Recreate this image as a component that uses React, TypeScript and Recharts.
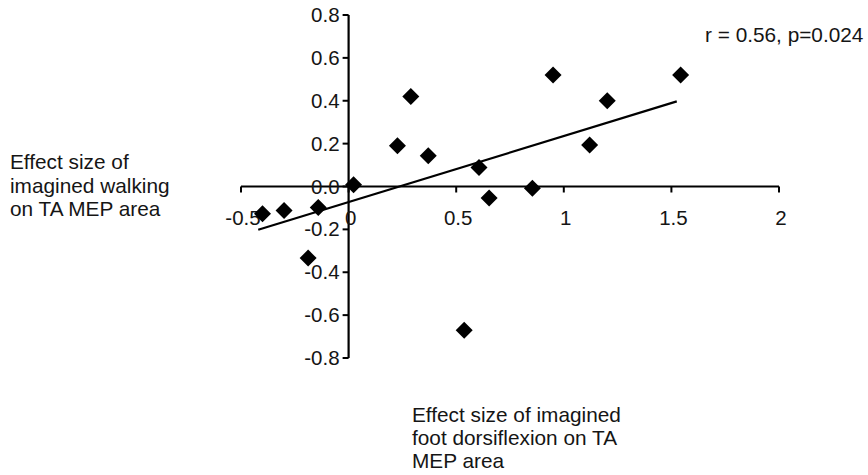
import { ReferenceDot, ReferenceLine, Scatter, ScatterChart, XAxis, YAxis } from "recharts";

// effect sizes
const dorsiflexionEffect = [
  -0.4, -0.3, -0.141, -0.188, 0.023, 0.227, 0.289, 0.37, 0.537, 0.606, 0.653, 0.854, 0.95, 1.12, 1.202, 1.543,
];
const walkingEffect = [
  -0.127, -0.112, -0.098, -0.334, 0.008, 0.19, 0.42, 0.143, -0.671, 0.089, -0.054, -0.008, 0.52, 0.194, 0.4, 0.52,
];
const fitX = [-0.42, 1.525];
const fitY = [-0.202, 0.397];

const xTicks = [-0.5, 0, 0.5, 1, 1.5, 2];
const xTickLabels = ["-0.5", "0", "0.5", "1", "1.5", "2"];
const yTicks = [0.8, 0.6, 0.4, 0.2, 0, -0.2, -0.4, -0.6, -0.8];
const yTickLabels = ["0.8", "0.6", "0.4", "0.2", "0.0", "-0.2", "-0.4", "-0.6", "-0.8"];

const points = dorsiflexionEffect.map((x, i) => ({ x, y: walkingEffect[i] }));
const fitLine = fitX.map((x, i) => ({ x, y: fitY[i] }));

const FONT = "'Liberation Sans', Arial, sans-serif";
const INK = "#151515";

function Diamond(props: any) {
  const { cx, cy } = props;
  const r = 8.5;
  return <polygon points={`${cx},${cy - r} ${cx + r},${cy} ${cx},${cy + r} ${cx - r},${cy}`} fill="#000" />;
}

function xTickShape(label: string) {
  return (props: any) => (
    <g>
      <line x1={props.cx} y1={props.cy} x2={props.cx} y2={props.cy + 6} stroke="#000" strokeWidth={2} />
      <text x={props.cx + 2} y={props.cy + 38.5} textAnchor="middle" fontFamily={FONT} fontSize={20.5} fill={INK}>
        {label}
      </text>
    </g>
  );
}

function yTickShape(label: string) {
  return (props: any) => (
    <g>
      <line x1={props.cx - 6} y1={props.cy} x2={props.cx} y2={props.cy} stroke="#000" strokeWidth={2} />
      <text x={props.cx - 9} y={props.cy + 7} textAnchor="end" fontFamily={FONT} fontSize={20.5} fill={INK}>
        {label}
      </text>
    </g>
  );
}

const textStyle: React.CSSProperties = {
  position: "absolute",
  fontFamily: FONT,
  fontSize: 20.8,
  lineHeight: "23.5px",
  color: INK,
  whiteSpace: "nowrap",
};

export default function App() {
  return (
    <div style={{ position: "absolute", left: 0, top: 0, width: 868, height: 475, background: "#fff" }}>
      <ScatterChart width={868} height={475} margin={{ top: 15, right: 89, bottom: 117, left: 241 }}>
        <XAxis type="number" dataKey="x" domain={[-0.5, 2]} hide />
        <YAxis type="number" dataKey="y" domain={[-0.8, 0.8]} hide />
        <ReferenceLine y={0} stroke="#000" strokeWidth={2.2} />
        <ReferenceLine x={0} stroke="#000" strokeWidth={2.2} />
        {xTicks.map((t, i) => (
          <ReferenceDot key={`x${t}`} x={t} y={0} ifOverflow="visible" shape={xTickShape(xTickLabels[i])} />
        ))}
        {yTicks.map((t, i) => (
          <ReferenceDot key={`y${t}`} x={0} y={t} ifOverflow="visible" shape={yTickShape(yTickLabels[i])} />
        ))}
        <Scatter
          data={fitLine}
          line={{ stroke: "#000", strokeWidth: 2.2 }}
          shape={() => <g />}
          isAnimationActive={false}
        />
        <Scatter data={points} shape={Diamond} isAnimationActive={false} />
      </ScatterChart>
      <div style={{ ...textStyle, left: 10, top: 150 }}>
        Effect size of
        <br />
        imagined walking
        <br />
        on TA MEP area
      </div>
      <div style={{ ...textStyle, left: 412, top: 403, lineHeight: "23px" }}>
        Effect size of imagined
        <br />
        foot dorsiflexion on TA
        <br />
        MEP area
      </div>
      <div style={{ ...textStyle, left: 705, top: 23 }}>r = 0.56, p=0.024</div>
    </div>
  );
}
